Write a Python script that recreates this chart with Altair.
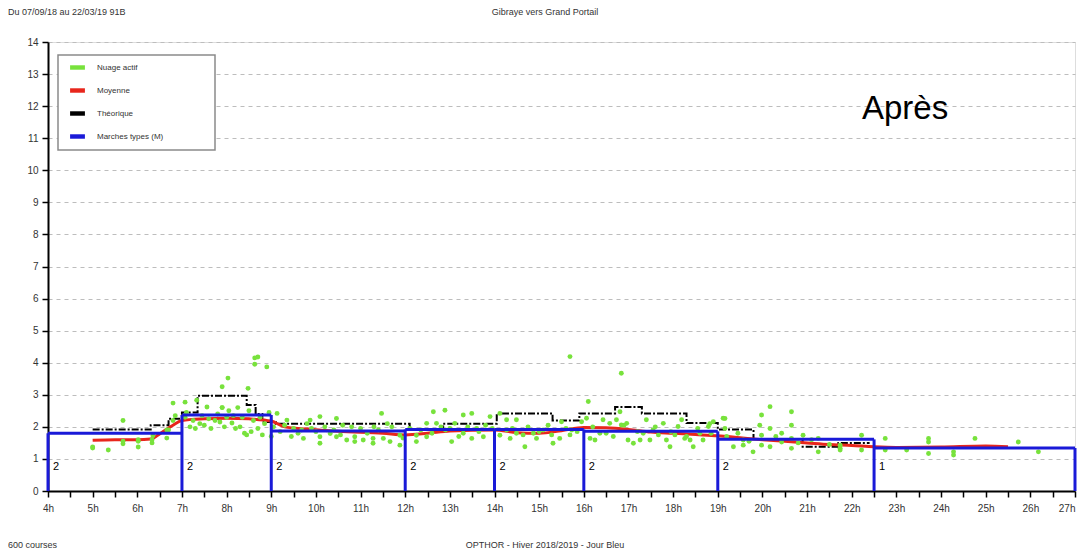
import altair as alt
import pandas as pd

# ---------------- data ----------------
hour_ticks = [4 + 0.5 * i for i in range(47)]
y_ticks = list(range(15))

series_names = ["Nuage actif", "Moyenne", "Théorique", "Marches types (M)"]
series_colors = ["#78e23c", "#e8261c", "#000000", "#1a1ad8"]

# Marches types (M)
blue_start = [4, 7, 9, 12, 14, 16, 19, 22.5]
blue_end = [7, 9, 12, 14, 16, 19, 22.5, 27]
blue_val = [1.80, 2.37, 1.87, 1.92, 1.92, 1.86, 1.61, 1.34]
blue_label = ["2", "2", "2", "2", "2", "2", "2", "1"]

# Théorique (step)
theo_h = [5.0, 6.3, 6.7, 7.0, 7.35, 8.45, 8.65, 8.8, 9.1, 12.1, 12.85, 14.05, 15.3,
          15.9, 16.7, 17.3, 18.3, 19.0, 19.8, 20.9, 21.7, 22.4]
theo_v = [1.92, 2.05, 2.25, 2.45, 2.97, 2.68, 2.4, 2.15, 2.1, 1.9, 2.1, 2.42, 2.2,
          2.42, 2.62, 2.42, 2.12, 1.92, 1.62, 1.38, 1.5, 1.5]

# Moyenne
moy_h = [5.0, 5.5, 6.0, 6.3, 6.5, 6.8, 7.0, 7.5, 8.0, 8.5, 9.0, 9.3, 9.8, 10.5, 11.5,
         12.0, 12.5, 13.0, 14.0, 14.5, 15.0, 15.5, 16.0, 16.5, 17.0, 17.5, 18.0, 18.5,
         19.0, 19.5, 20.0, 20.5, 21.0, 21.5, 22.0, 22.5, 23.0, 24.0, 25.0, 25.5]
moy_v = [1.58, 1.6, 1.6, 1.62, 1.78, 2.05, 2.2, 2.25, 2.27, 2.25, 2.18, 2.0, 1.93, 1.86,
         1.8, 1.75, 1.8, 1.87, 1.9, 1.82, 1.8, 1.88, 1.98, 1.97, 1.92, 1.84, 1.8, 1.76,
         1.72, 1.66, 1.6, 1.55, 1.5, 1.45, 1.42, 1.38, 1.36, 1.37, 1.4, 1.38]

# Nuage actif
nuage_h = [
    5.0, 5.0, 5.35, 5.68, 5.68, 5.68, 6.02, 6.02, 6.02, 6.33, 6.35, 6.33, 6.66, 6.66, 6.7, 6.8, 6.85, 6.8,
    7.07, 7.07, 7.18, 7.33, 7.4, 7.56, 7.74, 7.9, 7.9, 7.9, 7.95, 8.12, 8.3, 8.48, 8.4, 8.63, 8.63, 8.7,
    8.9, 8.45, 8.55, 8.7, 9.05, 9.13, 9.0, 8.03,
    7.1, 7.25, 7.3, 7.45, 7.5, 7.6, 7.65, 7.8, 7.85, 8.0, 8.05, 8.15, 8.2, 8.25, 8.35, 8.5, 8.6, 8.75,
    8.8, 8.85, 8.95,
    9.35, 9.68, 9.72, 9.87, 10.09, 10.09, 10.09, 10.32, 10.46, 10.46, 10.69, 10.87, 10.87, 11.06, 11.28,
    11.28, 11.47, 11.51, 11.66, 11.88, 11.88, 9.5, 9.2, 9.45, 9.9, 10.2, 10.6, 11.0, 11.3, 11.7,
    9.3, 9.6, 9.8, 10.0, 10.4, 10.55, 10.8, 11.15, 11.4, 11.6, 11.95,
    12.25, 12.25, 12.48, 12.48, 12.63, 12.7, 12.89, 13.04, 13.11, 13.3, 13.3, 13.49, 13.49, 13.75, 13.9,
    12.1, 12.9, 13.6, 13.8, 14.12, 14.12, 14.35,
    12.35, 12.6, 12.8, 13.0, 13.2, 13.4, 13.65, 13.95,
    14.27, 14.27, 14.49, 14.49, 14.64, 14.68, 14.87, 14.94, 15.09, 15.28, 15.31, 15.46, 15.5, 15.69,
    15.73, 15.95, 16.06, 16.14, 16.25, 16.36, 16.43, 16.58, 16.66, 16.73, 16.81, 16.84, 16.96, 16.99,
    17.11, 17.26, 17.33, 17.4, 17.48, 17.55, 17.67, 17.78, 17.85, 17.93, 18.04, 18.11, 18.19, 18.26,
    18.38, 18.45, 18.6, 18.67, 18.79, 18.9, 19.12, 19.2, 19.35, 19.57, 15.69, 16.84, 16.1,
    14.4, 14.75, 15.0, 15.2, 15.6, 15.85, 16.2, 16.5, 16.9, 17.2, 17.6, 17.95, 18.3, 18.55, 18.85,
    18.82, 19.16, 19.16, 19.57, 19.79, 19.94, 19.98, 19.98, 19.98, 20.17, 20.17, 20.17, 20.43, 20.43,
    20.65, 20.65, 20.65, 20.65, 20.91, 21.25, 21.25, 21.74, 21.74, 21.74,
    19.45, 19.7, 20.3, 20.8, 21.1, 21.5,
    22.22, 22.22, 22.75, 22.75, 23.23, 23.72, 23.72, 23.72, 24.28, 24.28, 24.76, 25.73, 26.18,
]
nuage_v = [
    1.37, 1.34, 1.28, 2.2, 1.47, 1.55, 1.37, 1.55, 1.6, 1.6, 1.72, 1.5, 1.9, 1.65, 1.9, 2.74, 2.35, 2.2,
    2.77, 2.3, 2.0, 2.83, 2.1, 2.62, 2.2, 3.25, 2.6, 2.6, 2.0, 2.12, 2.0, 3.2, 1.8, 4.15, 3.95, 4.18,
    3.87, 1.75, 1.85, 1.95, 2.0, 2.42, 1.7, 3.52,
    2.45, 2.2, 1.95, 2.35, 2.05, 2.25, 1.95, 2.4, 2.15, 2.3, 2.5, 2.35, 1.95, 2.6, 2.3, 2.5, 2.2, 2.3,
    1.75, 2.1, 2.45,
    2.21, 1.9, 1.64, 2.21, 2.32, 1.69, 1.49, 1.79, 2.26, 1.69, 1.59, 1.69, 1.54, 1.59, 1.64,
    1.49, 2.42, 1.64, 1.54, 1.43, 1.74, 1.95, 1.85, 1.7, 1.95, 2.0, 2.05, 1.95, 2.0, 2.0,
    2.05, 1.8, 2.1, 1.85, 1.9, 1.75, 2.0, 1.8, 1.9, 2.1, 1.65,
    1.74, 1.54, 1.69, 2.11, 2.47, 2.11, 2.52, 1.54, 2.11, 2.37, 1.8, 2.42, 1.64, 1.69, 2.32,
    1.95, 1.9, 1.95, 2.05, 2.42, 1.74, 1.64,
    1.9, 1.8, 2.0, 1.95, 1.7, 2.0, 1.85, 1.95,
    2.22, 1.9, 2.22, 1.8, 1.75, 1.38, 1.8, 1.64, 1.9, 1.75, 1.49, 1.64, 2.16, 1.75,
    1.9, 2.16, 2.27, 1.64, 1.59, 1.8, 2.22, 2.11, 1.7, 2.22, 2.47, 2.06, 2.11, 1.59,
    1.49, 1.59, 1.8, 2.22, 1.59, 1.9, 1.75, 2.11, 1.59, 1.38, 1.75, 2.01, 2.22, 1.64,
    1.59, 1.38, 1.8, 1.59, 2.01, 2.16, 2.27, 1.7, 1.38, 1.59, 4.19, 3.67, 2.79,
    1.95, 2.0, 1.85, 2.05, 1.95, 1.85, 2.0, 1.8, 2.05, 1.85, 2.0, 1.85, 1.7, 1.95, 1.8,
    2.1, 2.26, 1.95, 1.43, 1.22, 2.05, 2.37, 1.74, 1.43, 2.63, 1.95, 1.38, 1.8, 1.53,
    2.47, 2.05, 1.64, 1.33, 1.74, 1.64, 1.22, 1.33, 1.43, 1.28,
    1.8, 1.55, 1.7, 1.5, 1.6, 1.45,
    1.74, 1.28, 1.64, 1.28, 1.28, 1.64, 1.17, 1.53, 1.22, 1.12, 1.64, 1.53, 1.22,
]

header_left = "Du 07/09/18 au 22/03/19 91B"
header_title = "Gibraye vers Grand Portail"
footer_left = "600 courses"
footer_center = "OPTHOR - Hiver 2018/2019 - Jour Bleu"
big_label = "Après"

# ---------------- tables ----------------
W, H = 1027, 449
FONT = "Liberation Sans"

pts = pd.DataFrame({"h": nuage_h, "v": nuage_v, "series": series_names[0]})
moy = pd.DataFrame({"h": moy_h, "v": moy_v})
theo = pd.DataFrame({"h": theo_h, "v": theo_v})
horiz = pd.DataFrame({"h": blue_start, "h2": blue_end, "v": blue_val, "lab": blue_label})
vert_h = blue_start + [blue_end[-1]]
vert_top = [blue_val[0]] + [max(blue_val[i - 1], blue_val[i]) for i in range(1, len(blue_val))] + [blue_val[-1]]
vert = pd.DataFrame({"h": vert_h, "top": vert_top, "zero": [0] * len(vert_h)})

xs = alt.Scale(domain=[4, 27], nice=False, zero=False)
ys = alt.Scale(domain=[0, 14], nice=False)

x_axis = alt.Axis(values=hour_ticks, labelExpr="datum.value % 1 == 0 ? datum.value + 'h' : ''",
                  tickSize=6, labelFontSize=10, labelFont=FONT, labelColor="#333333",
                  domainColor="#000000", domainWidth=2, tickColor="#000000", tickWidth=1.5,
                  labelPadding=6, grid=False, title=None, labelFlush=False, labelOverlap=False,
                  labelAlign={"condition": {"test": "datum.value >= 27", "value": "right"},
                              "value": "center"})
y_axis = alt.Axis(values=y_ticks, tickSize=6, labelFontSize=10, labelFont=FONT, labelColor="#333333",
                  domainColor="#000000", domainWidth=2, tickColor="#000000", tickWidth=1.5,
                  grid=True, gridDash=[4, 4], gridColor="#bdbdbd", gridWidth=1, title=None,
                  labelPadding=4, labelOverlap=False)


def X(field):
    return alt.X(field, scale=xs, axis=x_axis)


def Y(field):
    return alt.Y(field, scale=ys, axis=y_axis)


legend = alt.Legend(orient="none", legendX=22, legendY=18, title=None,
                    symbolType="M-1,-0.3H1V0.3H-1Z", symbolSize=220, symbolStrokeWidth=0,
                    labelFontSize=8, labelFont=FONT, labelColor="#333333", labelOffset=12,
                    rowPadding=11, padding=0)

points = alt.Chart(pts).mark_circle(size=24, opacity=1).encode(
    x=X("h:Q"), y=Y("v:Q"),
    color=alt.Color("series:N", scale=alt.Scale(domain=series_names, range=series_colors), legend=legend),
)

red = alt.Chart(moy).mark_line(color="#e8261c", strokeWidth=3, interpolate="monotone").encode(
    x=X("h:Q"), y=Y("v:Q"))

black = alt.Chart(theo).mark_line(color="#000000", strokeWidth=2, interpolate="step-after",
                                  strokeDash=[7, 2, 2, 2]).encode(
    x=X("h:Q"), y=Y("v:Q"))

blue_h = alt.Chart(horiz).mark_rule(color="#1a1ad8", strokeWidth=3).encode(
    x=X("h:Q"), x2="h2:Q", y=Y("v:Q"))

blue_v = alt.Chart(vert).mark_rule(color="#1a1ad8", strokeWidth=3).encode(
    x=X("h:Q"), y=Y("zero:Q"), y2="top:Q")

labels = alt.Chart(horiz).mark_text(align="left", baseline="middle", dx=5, fontSize=11,
                                    font=FONT, color="#000000").encode(
    x=X("h:Q"), y=alt.value(H - 24), text="lab:N")

legend_box = alt.Chart(pd.DataFrame({"a": [0]})).mark_rect(fill="white", stroke="#8a8a8a",
                                                            strokeWidth=1.5).encode(
    x=alt.value(10), x2=alt.value(167), y=alt.value(13), y2=alt.value(108))


def txt(s, x, y, size, align="left", color="#333333"):
    return alt.Chart(pd.DataFrame({"t": [s]})).mark_text(
        align=align, baseline="middle", fontSize=size, font=FONT, color=color).encode(
        x=alt.value(x), y=alt.value(y), text="t:N")


texts = [
    txt(header_left, -40, -30, 9),
    txt(header_title, 497, -30, 9, align="center"),
    txt(footer_left, -40, 503, 9),
    txt(footer_center, 497, 503, 9, align="center"),
    txt(big_label, 814, 67, 33, color="#000000"),
]

chart = alt.layer(legend_box, black, red, points, blue_h, blue_v, labels, *texts).properties(
    width=W, height=H,
    autosize=alt.AutoSizeParams(type="none"),
    padding={"left": 40, "top": 34, "right": 3, "bottom": 59},
).configure_view(stroke="#777777", strokeWidth=2).configure(background="white")

chart.save("out.html", embed_options={"renderer": "svg", "actions": False})
